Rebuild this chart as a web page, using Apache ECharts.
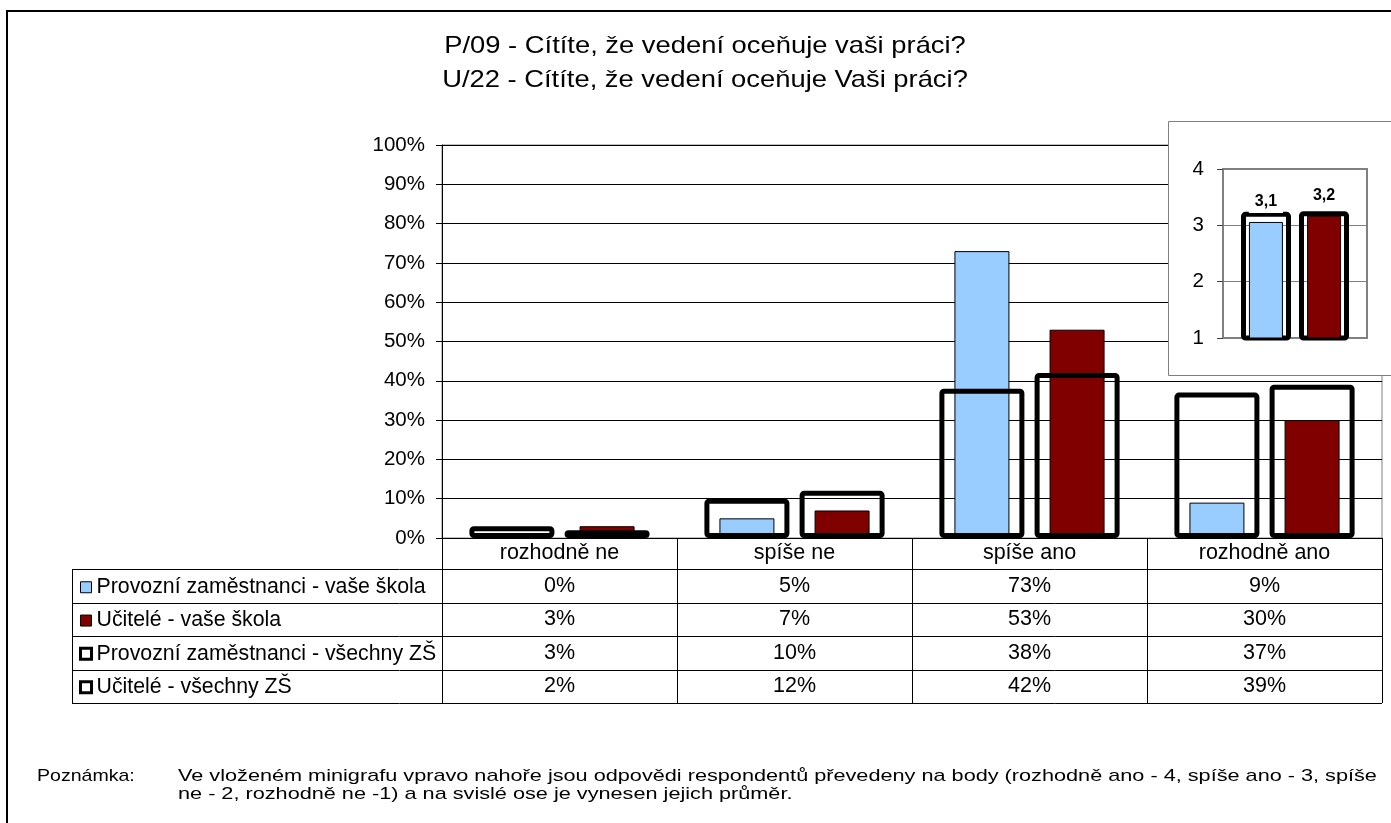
<!DOCTYPE html>
<html><head><meta charset="utf-8">
<script src="https://cdn.jsdelivr.net/npm/echarts@6/dist/echarts.min.js"></script>
<style>html,body{margin:0;padding:0;background:#fff}#c{width:1391px;height:823px}</style>
</head><body><div id="c"></div>
<script>
// ---- data ----
const titleLines = ['P/09 - Cítíte, že vedení oceňuje vaši práci?', 'U/22 - Cítíte, že vedení oceňuje Vaši práci?'];
const categories = ['rozhodně ne', 'spíše ne', 'spíše ano', 'rozhodně ano'];
const seriesNames = ['Provozní zaměstnanci - vaše škola', 'Učitelé - vaše škola', 'Provozní zaměstnanci - všechny ZŠ', 'Učitelé - všechny ZŠ'];
const provozniSkola = [0, 5, 73, 9];
const uciteleSkola = [3, 7, 53, 30];
const provozniVsechny = [3, 10, 38, 37];
const uciteleVsechny = [2, 12, 42, 39];
const yMin = 0, yMax = 100, yStep = 10;
const insetCategory = [''];
const insetProvozniSkola = [3.06];
const insetUciteleSkola = [3.17];
const insetProvozniVsechny = [3.24];
const insetUciteleVsechny = [3.25];
const insetMin = 1, insetMax = 4, insetStep = 1;
const noteLabel = 'Poznámka:';
const noteLines = ['Ve vloženém minigrafu vpravo nahoře jsou odpovědi respondentů převedeny na body (rozhodně ano - 4, spíše ano - 3, spíše', 'ne - 2, rozhodně ne -1) a na svislé ose je vynesen jejich průměr.'];

// ---- layout / style ----
const FONT = '"Liberation Sans", Arial, sans-serif';
const BLUE = '#99CCFF', RED = '#800000';
const G = {left: 442, top: 145, width: 940, height: 393};
const TABLE = {left: 72, top: 569, rowH: 33.5};
const IG = {left: 1223, top: 169, width: 144, height: 169};
const TFS = 21.5; // table font size
const LFS = 21.3; // legend font size
const tableRows = [provozniSkola, uciteleSkola, provozniVsechny, uciteleVsechny];
const axisBottom = G.top + G.height;

const rowAxes = tableRows.map((row, r) => ({
  type: 'category', gridIndex: 0, position: 'bottom', data: categories,
  offset: (TABLE.top + TABLE.rowH * (r + 0.5)) - axisBottom - 16,
  axisLine: {show: false}, axisTick: {show: false}, splitLine: {show: false},
  axisLabel: {interval: 0, margin: 6, fontSize: TFS, fontFamily: FONT, color: '#000', lineHeight: 20,
    formatter: (v, i) => row[i] + '%'}
}));

const chart = echarts.init(document.getElementById('c'), null, {renderer: 'canvas'});

const lines = [];
for (let r = 0; r <= tableRows.length; r++) {
  const y = Math.round(TABLE.top + TABLE.rowH * r) + 0.5;
  lines.push({type: 'line', z: 1, shape: {x1: TABLE.left, y1: y, x2: G.left + G.width, y2: y}, style: {stroke: '#000', lineWidth: 1}});
}
lines.push({type: 'line', z: 1, shape: {x1: TABLE.left + 0.5, y1: TABLE.top, x2: TABLE.left + 0.5, y2: TABLE.top + TABLE.rowH * tableRows.length}, style: {stroke: '#000', lineWidth: 1}});

const titleTexts = titleLines.map((t, i) => ({
  type: 'text', z: 20, x: 705, y: 46 + 34 * i, scaleX: 1.14,
  style: {text: t, font: '24px ' + FONT, fill: '#000', align: 'center', verticalAlign: 'middle'}
}));
const noteTexts = [
  {type: 'text', z: 20, x: 37, y: 776, scaleX: 1.15, style: {text: noteLabel, font: '17px ' + FONT, fill: '#000', align: 'left', verticalAlign: 'middle'}},
  ...noteLines.map((t, i) => ({
    type: 'text', z: 20, x: 178, y: 776 + 18 * i, scaleX: 1.275,
    style: {text: t, font: '17px ' + FONT, fill: '#000', align: 'left', verticalAlign: 'middle'}
  }))
];

const outlineStyle = {color: 'rgba(0,0,0,0)', borderColor: '#000', borderWidth: 5, borderRadius: 2};
const insetLabel = {show: true, position: 'top', distance: 9, fontSize: 16, fontWeight: 'bold', color: '#000', fontFamily: FONT,
  backgroundColor: '#fff', padding: [3, 6], formatter: p => p.value.toFixed(1).replace('.', ',')};

chart.setOption({
  animation: false,
  backgroundColor: '#fff',
  textStyle: {fontFamily: FONT},
  legend: {
    orient: 'vertical', left: 79, top: TABLE.top + TABLE.rowH / 2 - 9, padding: 0,
    itemWidth: 11, itemHeight: 11, itemGap: TABLE.rowH - 21.2, icon: 'rect',
    textStyle: {fontSize: LFS, color: '#000', fontFamily: FONT, lineHeight: 21, padding: [0, 0, 0, 0]},
    data: [
      {name: seriesNames[0], itemStyle: {color: BLUE, borderColor: '#000', borderWidth: 1}},
      {name: seriesNames[1], itemStyle: {color: RED, borderColor: '#000', borderWidth: 1}},
      {name: seriesNames[2], itemStyle: {color: '#fff', borderColor: '#000', borderWidth: 3}},
      {name: seriesNames[3], itemStyle: {color: '#fff', borderColor: '#000', borderWidth: 3}}
    ],
    selectedMode: false
  },
  grid: [
    Object.assign({show: true, borderColor: '#808080', borderWidth: 1, backgroundColor: '#fff'}, G),
    Object.assign({show: true, borderColor: '#808080', borderWidth: 2, z: 10}, IG)
  ],
  xAxis: [
    {type: 'category', gridIndex: 0, position: 'bottom', data: categories,
      axisLine: {lineStyle: {color: '#000', width: 1}},
      axisTick: {show: true, interval: 0, length: TABLE.top + TABLE.rowH * 4 - axisBottom, lineStyle: {color: '#000'}},
      axisLabel: {interval: 0, margin: 5, fontSize: TFS, fontFamily: FONT, color: '#000', lineHeight: 20}},
    {type: 'category', gridIndex: 0, position: 'bottom', data: categories, show: false},
    ...rowAxes,
    {type: 'category', gridIndex: 1, data: insetCategory, show: false, z: 10},
    {type: 'category', gridIndex: 1, data: insetCategory, show: false, z: 10}
  ],
  yAxis: [
    {type: 'value', gridIndex: 0, min: yMin, max: yMax, interval: yStep,
      axisLine: {show: true, lineStyle: {color: '#000'}},
      axisTick: {show: true, length: 6, lineStyle: {color: '#000'}},
      axisLabel: {formatter: '{value}%', fontSize: 20.5, color: '#000', margin: 17, fontFamily: FONT},
      splitLine: {lineStyle: {color: '#000', width: 1}}},
    {type: 'value', gridIndex: 1, min: insetMin, max: insetMax, interval: insetStep, z: 10,
      axisLine: {show: true, lineStyle: {color: '#808080'}},
      axisTick: {show: true, length: 6, lineStyle: {color: '#404040'}},
      axisLabel: {fontSize: 20.5, color: '#000', margin: 19, fontFamily: FONT},
      splitLine: {lineStyle: {color: '#808080', width: 1}}}
  ],
  series: [
    {name: seriesNames[0], type: 'bar', xAxisIndex: 0, yAxisIndex: 0, data: provozniSkola, barWidth: 55, barGap: '73%', z: 2,
      itemStyle: {color: BLUE, borderColor: '#000', borderWidth: 1}},
    {name: seriesNames[1], type: 'bar', xAxisIndex: 0, yAxisIndex: 0, data: uciteleSkola, barWidth: 55, barGap: '73%', z: 2,
      itemStyle: {color: RED, borderColor: '#000', borderWidth: 1}},
    {name: seriesNames[2], type: 'bar', xAxisIndex: 1, yAxisIndex: 0, data: provozniVsechny, barWidth: 85, barGap: '12%', z: 3,
      itemStyle: outlineStyle},
    {name: seriesNames[3], type: 'bar', xAxisIndex: 1, yAxisIndex: 0, data: uciteleVsechny, barWidth: 85, barGap: '12%', z: 3,
      itemStyle: outlineStyle},
    {name: seriesNames[0], type: 'bar', xAxisIndex: 6, yAxisIndex: 1, data: insetProvozniSkola, barWidth: 34, barGap: '71%', z: 12,
      itemStyle: {color: BLUE, borderColor: '#000', borderWidth: 1}, label: insetLabel},
    {name: seriesNames[1], type: 'bar', xAxisIndex: 6, yAxisIndex: 1, data: insetUciteleSkola, barWidth: 34, barGap: '71%', z: 12,
      itemStyle: {color: RED, borderColor: '#000', borderWidth: 1}, label: insetLabel},
    {name: seriesNames[2], type: 'bar', xAxisIndex: 7, yAxisIndex: 1, data: insetProvozniVsechny, barWidth: 50, barGap: '16%', z: 11,
      itemStyle: outlineStyle},
    {name: seriesNames[3], type: 'bar', xAxisIndex: 7, yAxisIndex: 1, data: insetUciteleVsechny, barWidth: 50, barGap: '16%', z: 11,
      itemStyle: outlineStyle}
  ],
  graphic: [
    {type: 'rect', z: 5, shape: {x: 1168.5, y: 121.5, width: 260, height: 254}, style: {fill: '#fff', stroke: '#808080', lineWidth: 1}},
    ...lines,
    {type: 'rect', z: 50, silent: true, shape: {x: 7, y: 11, width: 1420, height: 900}, style: {fill: 'none', stroke: '#000', lineWidth: 2}},
    ...titleTexts,
    ...noteTexts
  ]
});
</script></body></html>
